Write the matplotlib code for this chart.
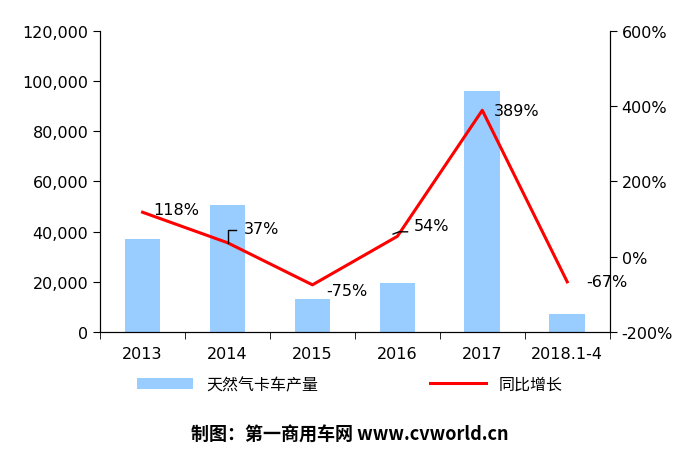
import matplotlib
matplotlib.use("Agg")
import matplotlib.pyplot as plt
import numpy as np

categories = ["2013", "2014", "2015", "2016", "2017", "2018.1-4"]
production = [37000, 50500, 13000, 19500, 96000, 7000]
growth = [118, 37, -75, 54, 389, -67]
growth_labels = ["118%", "37%", "-75%", "54%", "389%", "-67%"]

plt.rcParams["font.family"] = ["DejaVu Sans", "Noto Sans CJK SC"]
fig = plt.figure(figsize=(7, 4.56), dpi=100)
ax = fig.add_axes([0.143, 0.27, 0.728, 0.66])
x = np.arange(len(categories))
ax.bar(x, production, width=0.42, color="#99ccff", label="天然气卡车产量")
ax.set_xlim(-0.5, len(categories) - 0.5)
ax.set_ylim(0, 120000)
ax.set_yticks(range(0, 120001, 20000))
ax.set_yticklabels([f"{v:,}" for v in range(0, 120001, 20000)], fontsize=11.5)
ax.set_xticks(x)
ax.set_xticklabels(categories, fontsize=11.5)
ax.set_xticks(np.arange(-0.5, len(categories)), minor=True)
ax.tick_params(axis="x", which="major", length=0, pad=10)
ax.tick_params(axis="x", which="minor", length=5, direction="out")
ax.tick_params(axis="y", length=5, direction="out")
ax.spines["top"].set_visible(False)

ax2 = ax.twinx()
ax2.plot(x, growth, color="#ff0000", lw=2.2, label="同比增长")
ax2.set_ylim(-200, 600)
ax2.set_yticks(range(-200, 601, 200))
ax2.set_yticklabels([f"{v}%" for v in range(-200, 601, 200)], fontsize=11.5)
ax2.tick_params(axis="y", length=5, direction="out")
ax2.spines["top"].set_visible(False)

offsets = [(8, 2), (12, 10), (10, -4), (12, 8), (8, 0), (14, 0)]
for xi, g, lab, off in zip(x, growth, growth_labels, offsets):
    ax2.annotate(lab, (xi, g), xytext=off, textcoords="offset points",
                 fontsize=11.5, va="center", ha="left")
ax2.plot([1.0, 1.0, 1.1], [37, 70, 70], color="black", lw=1)
ax2.plot([2.95, 3.02, 3.12], [60, 66, 66], color="black", lw=1)

h1, l1 = ax.get_legend_handles_labels()
h2, l2 = ax2.get_legend_handles_labels()
fig.legend(h1 + h2, l1 + l2, loc="center", bbox_to_anchor=(0.5, 0.155), ncol=2,
           frameon=False, fontsize=11.5, columnspacing=7, handlelength=3.5)

fig.text(0.5, 0.045, "制图：第一商用车网 www.cvworld.cn", ha="center", va="center",
         fontsize=13, fontweight="bold", family=["Noto Sans CJK SC"])
fig.savefig("out.png", dpi=100, facecolor="white")
